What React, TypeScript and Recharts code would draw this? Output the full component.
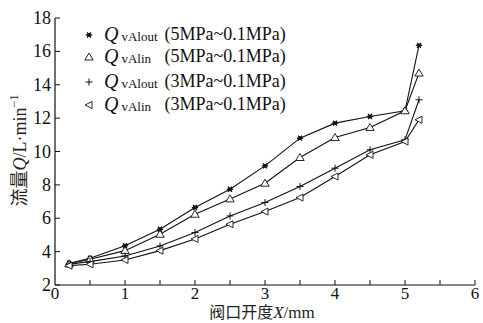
import React from "react";
import { LineChart, Line, XAxis, YAxis, Legend, Label } from "recharts";

const openings = [0.2, 0.5, 1, 1.5, 2, 2.5, 3, 3.5, 4, 4.5, 5, 5.2];
const outHigh = [3.3, 3.6, 4.35, 5.34, 6.64, 7.74, 9.14, 10.8, 11.7, 12.1, 12.44, 16.36];
const inHigh = [3.26, 3.54, 4.06, 5.04, 6.24, 7.16, 8.1, 9.64, 10.84, 11.44, 12.44, 14.7];
const outLow = [3.24, 3.4, 3.74, 4.34, 5.14, 6.14, 6.94, 7.9, 9.0, 10.1, 10.7, 13.1];
const inLow = [3.16, 3.24, 3.5, 4.06, 4.76, 5.64, 6.4, 7.24, 8.5, 9.8, 10.6, 11.9];

const xTicks = [0, 0.5, 1, 1.5, 2, 2.5, 3, 3.5, 4, 4.5, 5, 5.5, 6];
const yTicks = [2, 4, 6, 8, 10, 12, 14, 16, 18];

const legendRows = [
  { key: "outHigh", sub: "vAlout", range: "(5MPa~0.1MPa)", top: 0 },
  { key: "inHigh", sub: "vAlin", range: "(5MPa~0.1MPa)", top: 22 },
  { key: "outLow", sub: "vAlout", range: "(3MPa~0.1MPa)", top: 47 },
  { key: "inLow", sub: "vAlin", range: "(3MPa~0.1MPa)", top: 70 },
];

const data = openings.map((x, i) => ({
  x,
  outHigh: outHigh[i],
  inHigh: inHigh[i],
  outLow: outLow[i],
  inLow: inLow[i],
}));

const INK = "#111";
const SERIF = '"Liberation Serif", serif';
const CJK = '"Noto Sans CJK SC"';
const serifStyle = { fontFamily: SERIF };
const cjkStyle = { fontFamily: CJK };

const Marker = ({ kind, cx, cy }: { kind: string; cx: number; cy: number }) => {
  if (kind === "outHigh") {
    const r = 3.2;
    return (
      <g stroke={INK} strokeWidth={1.3}>
        <line x1={cx - r} y1={cy} x2={cx + r} y2={cy} />
        <line x1={cx - r * 0.6} y1={cy - r * 0.8} x2={cx + r * 0.6} y2={cy + r * 0.8} />
        <line x1={cx - r * 0.6} y1={cy + r * 0.8} x2={cx + r * 0.6} y2={cy - r * 0.8} />
        <circle cx={cx} cy={cy} r={1.3} fill={INK} />
      </g>
    );
  }
  if (kind === "inHigh") {
    return (
      <polygon
        points={`${cx},${cy - 4} ${cx - 4.2},${cy + 3} ${cx + 4.2},${cy + 3}`}
        fill="#fff"
        stroke={INK}
        strokeWidth={0.9}
      />
    );
  }
  if (kind === "outLow") {
    return (
      <g stroke={INK} strokeWidth={1}>
        <line x1={cx - 3.5} y1={cy} x2={cx + 3.5} y2={cy} />
        <line x1={cx} y1={cy - 3.5} x2={cx} y2={cy + 3.5} />
      </g>
    );
  }
  return (
    <polygon
      points={`${cx - 4},${cy} ${cx + 3},${cy - 3.5} ${cx + 3},${cy + 3.5}`}
      fill="#fff"
      stroke={INK}
      strokeWidth={0.9}
    />
  );
};

const makeDot = (kind: string) => (props: any) => {
  const { cx, cy, index } = props;
  if (cx == null || cy == null) return <g key={`${kind}-${index}`} />;
  return (
    <g key={`${kind}-${index}`}>
      <Marker kind={kind} cx={cx} cy={cy} />
    </g>
  );
};

const XTick = (props: any) => {
  const { x, y, payload } = props;
  const v = payload.value;
  const major = Number.isInteger(v);
  return (
    <g>
      {v > 0 && <line x1={x} y1={y} x2={x} y2={y - 5} stroke={INK} strokeWidth={1} />}
      {major && (
        <text x={x} y={y + 14} textAnchor="middle" fontSize={17} fill={INK} style={serifStyle}>
          {v}
        </text>
      )}
    </g>
  );
};

const YTick = (props: any) => {
  const { x, y, payload } = props;
  return (
    <g>
      <line x1={x} y1={y} x2={x + 5} y2={y} stroke={INK} strokeWidth={1} />
      <text x={x - 4} y={y + 6} textAnchor="end" fontSize={18} fill={INK} style={serifStyle}>
        {payload.value}
      </text>
    </g>
  );
};

const YTitle = (props: any) => {
  const vb = props.viewBox || { x: 0, y: 18, width: 55, height: 267 };
  const cy = vb.y + vb.height / 2 - 1;
  return (
    <text
      transform={`translate(20, ${cy}) rotate(-90)`}
      x={0}
      y={6}
      textAnchor="middle"
      fontSize={18}
      fill="#222"
      style={serifStyle}
    >
      <tspan style={cjkStyle} fontSize={18} fill="#222">流量</tspan>
      <tspan fontStyle="italic">Q</tspan>
      <tspan>/L·min</tspan>
      <tspan dy={-8} fontSize={12}>−1</tspan>
    </text>
  );
};

const XTitle = (props: any) => {
  const vb = props.viewBox || { x: 55, y: 285, width: 420, height: 30 };
  return (
    <text x={vb.x + vb.width / 2 - 3} y={vb.y + 33} textAnchor="middle" fontSize={17} fill="#222" style={serifStyle}>
      <tspan style={cjkStyle} fontSize={16} fill="#222">阀口开度</tspan>
      <tspan fontStyle="italic">X</tspan>
      <tspan>/mm</tspan>
    </text>
  );
};

const LegendBox = () => (
  <div style={{ position: "relative", width: 230, height: 92, fontFamily: SERIF, color: INK }}>
    {legendRows.map((row) => (
      <div key={row.key} style={{ position: "absolute", top: row.top, left: 0, display: "flex", alignItems: "center", whiteSpace: "nowrap" }}>
        <svg width={14} height={14} style={{ marginRight: 8 }}>
          <Marker kind={row.key} cx={7} cy={7} />
        </svg>
        <span style={{ fontStyle: "italic", fontSize: 20 }}>Q</span>
        <span style={{ fontSize: 13, marginLeft: 3, width: 38, display: "inline-block", position: "relative", top: 2 }}>{row.sub}</span>
        <span style={{ fontSize: 18, marginLeft: 5 }}>{row.range}</span>
      </div>
    ))}
  </div>
);

export default function App() {
  return (
    <div style={{ position: "absolute", left: 0, top: 0, width: 483, height: 323, background: "#fff" }}>
      <LineChart width={483} height={323} data={data} margin={{ top: 18, right: 8, bottom: 8, left: 0 }}>
        <XAxis
          type="number"
          dataKey="x"
          domain={[0, 6]}
          ticks={xTicks}
          interval={0}
          height={30}
          tickSize={0}
          tickMargin={0}
          tickLine={false}
          tick={<XTick />}
          axisLine={{ stroke: INK, strokeWidth: 1.2 }}
        >
          <Label content={<XTitle />} />
        </XAxis>
        <YAxis
          type="number"
          domain={[2, 18]}
          ticks={yTicks}
          interval={0}
          width={55}
          tickSize={0}
          tickMargin={0}
          tickLine={false}
          tick={<YTick />}
          axisLine={{ stroke: INK, strokeWidth: 1.2 }}
        >
          <Label content={<YTitle />} />
        </YAxis>
        <Legend
          layout="vertical"
          align="center"
          verticalAlign="middle"
          wrapperStyle={{ top: 23, left: 82, width: 230 }}
          content={() => <LegendBox />}
        />
        {legendRows.map((row) => (
          <Line
            key={row.key}
            type="linear"
            dataKey={row.key}
            stroke={INK}
            strokeWidth={1.1}
            dot={makeDot(row.key)}
            activeDot={false}
            isAnimationActive={false}
          />
        ))}
      </LineChart>
    </div>
  );
}
